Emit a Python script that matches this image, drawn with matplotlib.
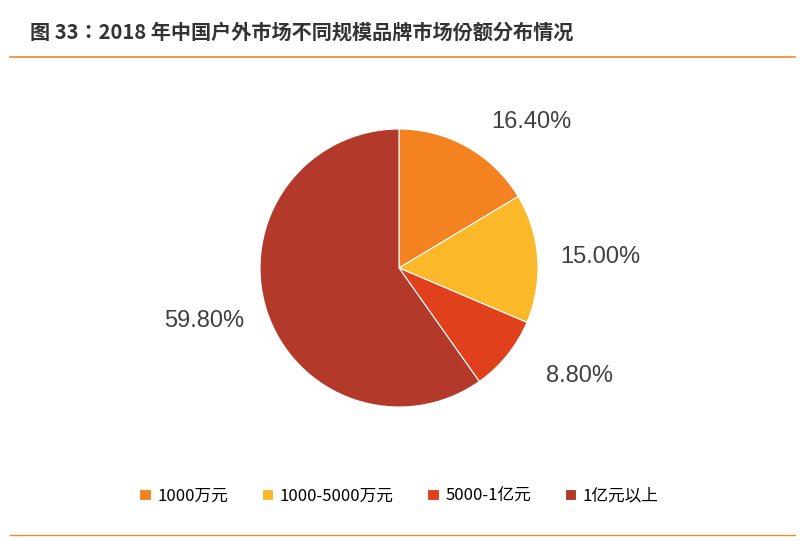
import matplotlib.pyplot as plt
from matplotlib.lines import Line2D

plt.rcParams['font.family'] = ['Noto Sans CJK JP', 'Noto Sans CJK SC', 'DejaVu Sans']

labels = ['1000万元', '1000-5000万元', '5000-1亿元', '1亿元以上']
shares = [16.4, 15.0, 8.8, 59.8]
colors = ['#F58220', '#FBB829', '#E0401C', '#B33A2B']

fig = plt.figure(figsize=(8.05, 5.41), dpi=100)

# title and rules
fig.text(0.037, 0.94, '图 33：2018 年中国户外市场不同规模品牌市场份额分布情况',
         fontsize=14.5, fontweight='bold', color='#333333', va='center')
fig.add_artist(Line2D([0.012, 0.988], [0.895, 0.895], color='#F08A2A', lw=1.2))
fig.add_artist(Line2D([0.012, 0.988], [0.012, 0.012], color='#F08A2A', lw=1.0))

# pie centre ~ (399, 268) px, radius ~139 px
r = 139 / 541
ax = fig.add_axes([399 / 805 - r * 541 / 805, 1 - 268 / 541 - r, 2 * r * 541 / 805, 2 * r])
wedges, texts = ax.pie(shares, colors=colors, startangle=90, counterclock=False,
                       wedgeprops=dict(edgecolor='white', linewidth=0.8))
ax.set_xlim(-1, 1)
ax.set_ylim(-1, 1)
ax.set_aspect('equal')

# value labels
label_pos = [(0.95, 1.05), (1.45, 0.08), (1.3, -0.78), (-1.4, -0.38)]
for s, (x, y) in zip(shares, label_pos):
    ax.text(x, y, '%.2f%%' % s, fontsize=17, color='#404040', family='Liberation Sans',
            ha='center', va='center', clip_on=False)

ax.legend(wedges, labels, loc='center', bbox_to_anchor=(0.5, -0.32), ncol=4,
          frameon=False, fontsize=12, handlelength=0.7, handleheight=0.7,
          columnspacing=2.0, handletextpad=0.4)

plt.savefig('out.png', dpi=100)
